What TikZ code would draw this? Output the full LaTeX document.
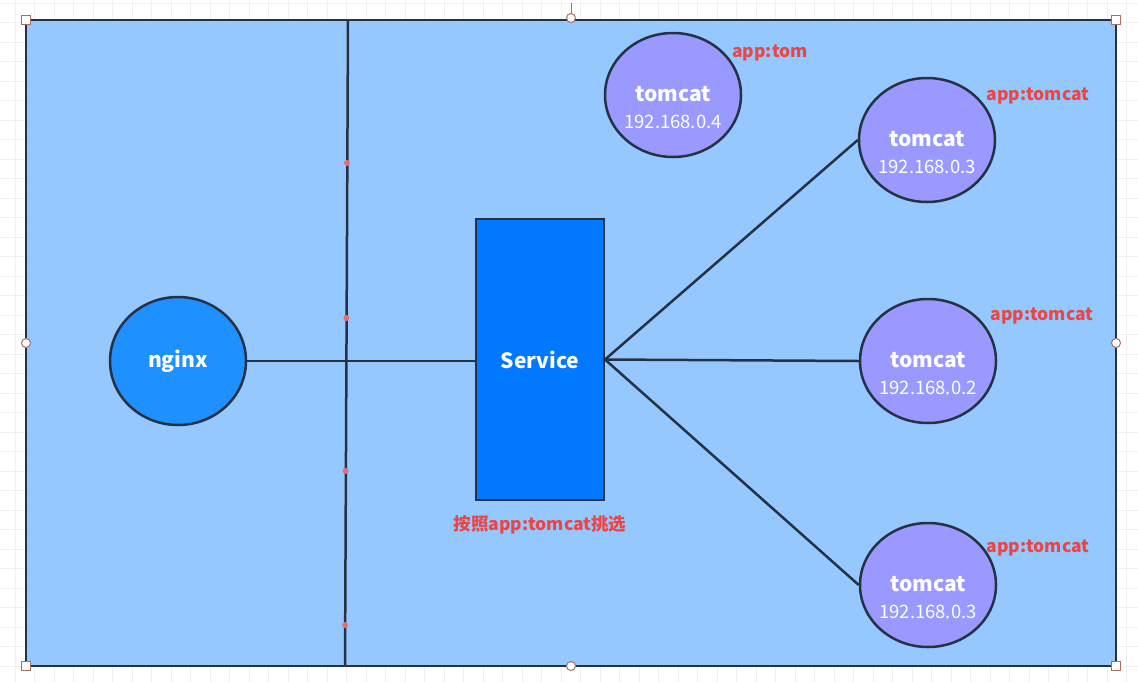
\documentclass[tikz,border=0pt]{standalone}
\usepackage{fontspec}
\setmainfont{Noto Sans CJK SC}
\usetikzlibrary{shapes.geometric}

\definecolor{areablue}{RGB}{148,200,255}
\definecolor{nginxblue}{RGB}{30,144,255}
\definecolor{svcblue}{RGB}{0,120,255}
\definecolor{tomcatfill}{RGB}{153,153,255}
\definecolor{edgegray}{RGB}{38,50,68}
\definecolor{labelred}{RGB}{235,70,70}
\definecolor{handlebrown}{RGB}{170,110,95}
\definecolor{gridgray}{RGB}{240,240,240}

\newcommand\nametext{\fontsize{21}{24}\selectfont\bfseries}
\newcommand\iptext{\fontsize{18.5}{20}\selectfont}
\newcommand\applabel{\fontsize{17.5}{20}\selectfont\bfseries}
\newcommand\tomcatpod[4]{% name, x, y, ip
  \node[pod] (#1) at (#2, #3) {};
  \node[podtext, font=\nametext] (#1-name) at ([yshift=1pt]#1.center) {tomcat};
  \node[podtext, font=\iptext] (#1-ip) at ([yshift=-27pt]#1.center) {#4};
}

\tikzset{
  link/.style={draw=edgegray, line width=2.5pt},
  pod/.style={ellipse, draw=edgegray, line width=2.5pt, fill=tomcatfill,
    minimum width=136pt, minimum height=124pt, inner sep=0pt},
  podtext/.style={text=white, inner sep=0pt},
  tag/.style={text=labelred, font=\applabel, inner sep=0pt},
  handle/.style={draw=handlebrown, fill=white, line width=1pt},
}

\begin{document}
\begin{tikzpicture}[x=1pt, y=-1pt]
  \useasboundingbox (0,0) rectangle (1138,681);
  \fill[white] (0,0) rectangle (1138,681);
  \draw[gridgray, line width=0.6pt, step=19.5pt, shift={(15pt,-3pt)}] (-15,-3) grid (1138,684);
  % area
  \draw[fill=areablue, draw=edgegray, line width=2.5pt] (26,20) rectangle (1116,666);
  \coordinate (divtop) at (348,20);
  \coordinate (divbot) at (345,666);
  \draw[link] (divtop) -- (divbot);
  \foreach \dy/\dx in {163/347, 318/346.3, 471/345.6, 625/345.2}
    \fill[labelred!80] (\dx, \dy) circle (3pt);
  % nodes
  \node[ellipse, draw=edgegray, line width=2.5pt, fill=nginxblue,
    minimum width=136pt, minimum height=128pt, text=white, font=\nametext] (nginx) at (178,361) {nginx};
  \node[rectangle, draw=edgegray, line width=2pt, fill=svcblue,
    minimum width=128pt, minimum height=281pt, text=white, font=\nametext] (svc) at (540,359.5) {Service};
  \node[tag] (svc-tag) at (540,525) {按照app:tomcat挑选};
  \tomcatpod{t0}{673}{95}{192.168.0.4}
  \tomcatpod{t1}{927}{140}{192.168.0.3}
  \tomcatpod{t2}{928}{361}{192.168.0.2}
  \tomcatpod{t3}{928}{585}{192.168.0.3}
  \node[tag] (t0-tag) at (770,53) {app:tom};
  \node[tag] (t1-tag) at (1038,96) {app:tomcat};
  \node[tag] (t2-tag) at (1042,316) {app:tomcat};
  \node[tag] (t3-tag) at (1038,548) {app:tomcat};
  % links
  \draw[link] (nginx.east) -- (nginx.east -| svc.west);
  \draw[link] (svc.east) -- (t1.west);
  \draw[link] (svc.east) -- (t2.west);
  \draw[link] (svc.east) -- (t3.west);
  % selection handles
  \draw[handle] (571,3) -- (571,14);
  \foreach \hx/\hy in {26/20, 1116/20, 26/666, 1116/666}
    \draw[handle] (\hx-4.5, \hy-4.5) rectangle ++(9,9);
  \foreach \hx/\hy in {571/18, 26/343, 1116/343, 571/666}
    \draw[handle] (\hx, \hy) circle (4.5pt);
\end{tikzpicture}
\end{document}
